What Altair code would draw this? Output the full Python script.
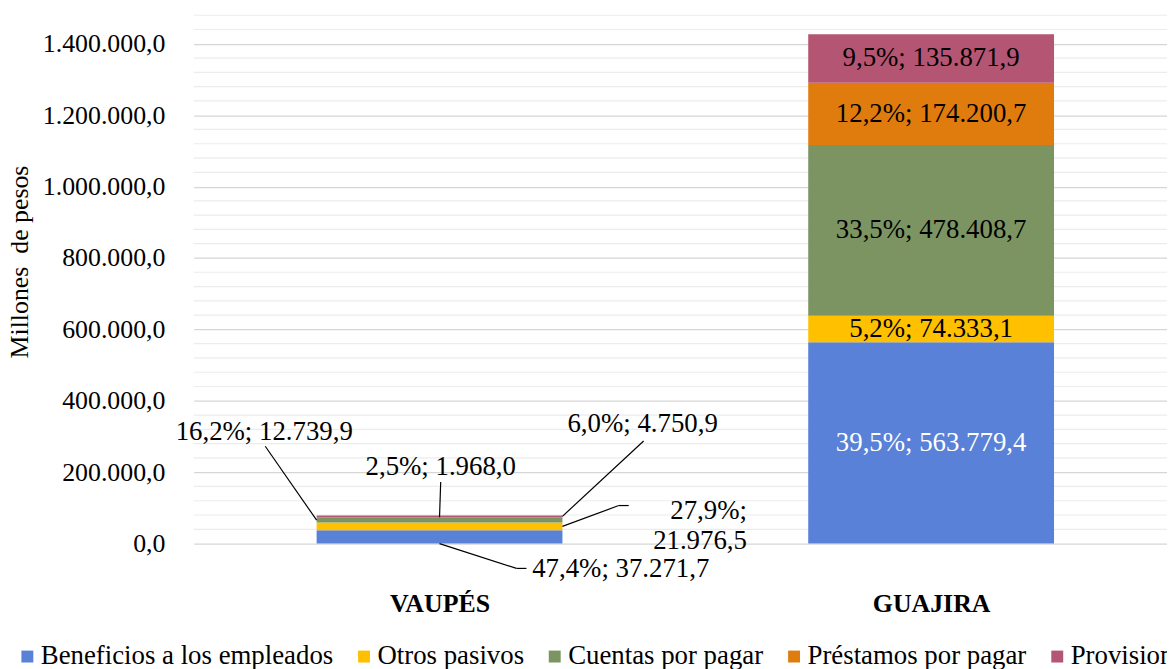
import json
import altair as alt
import pandas as pd

# ---------------- data ----------------
regions = ["VAUPÉS", "GUAJIRA"]
series = ["Beneficios a los empleados", "Otros pasivos", "Cuentas por pagar",
          "Préstamos por pagar", "Provisiones"]
vaupes = [37271.7, 21976.5, 12739.9, 1968.0, 4750.9]
guajira = [563779.4, 74333.1, 478408.7, 174200.7, 135871.9]
colors = ["#5981D7", "#FFC000", "#7C9462", "#E07C0E", "#B45573"]
major_ticks = list(range(0, 1400001, 200000))
minor_ticks = [v for v in range(0, 1480001, 40000) if v % 200000 != 0]
y_title = "Millones\u00a0 de pesos"

# annotation layout for the small VAUPÉS bar (label anchor, leader start, elbow, end)
ann_series = series
ann_tx = [0.8687, 1.1253, 0.1434, 0.5024, 0.9131]
ann_ty = [-71496, 91804, 311578, 214210, 333834]
ann_sx = [0.6768, 0.8848, 0.1455, 0.5024, 0.9152]
ann_sy = [-69549, 106549, 272631, 172481, 287375]
ann_lx = [0.6566, 0.8646, 0.1455, 0.5024, 0.9152]
ann_ly = [-69549, 106549, 272631, 172481, 287375]
ann_eoff = [0.0, 0.25, -0.25, 0.0, 0.25]
ann_frac = [0.0, 0.5, 0.5, 1.0, 0.5]
ann_wrap = [False, True, False, False, False]

FONT = "Liberation Serif"
W, H = 980, 532
STEP = 495.0
BAR_HALF = 0.25
LBL = 27


def es(x, d=1):
    s = f"{x:,.{d}f}"
    return s.replace(",", "#").replace(".", ",").replace("#", ".")


rows = []
for ri, (reg, vals) in enumerate(zip(regions, [vaupes, guajira])):
    total = sum(vals)
    for si, (s, v) in enumerate(zip(series, vals)):
        rows.append(dict(region=reg, xc=ri + 0.5, series=s, order=si, value=v,
                         label=f"{es(v / total * 100)}%; {es(v)}"))
df = pd.DataFrame(rows)

ann = pd.DataFrame(dict(series=ann_series, tx=ann_tx, ty=ann_ty, sx=ann_sx, sy=ann_sy,
                        lx=ann_lx, ly=ann_ly, eoff=ann_eoff, frac=ann_frac, wrap=ann_wrap))
minor_df = pd.DataFrame(dict(v=minor_ticks))

xscale = alt.Scale(domain=[0, W / STEP], nice=False, zero=False)
yscale = alt.Scale(domain=[0, 1480000], nice=False)

label_expr_x = json.dumps(regions, ensure_ascii=False) + "[floor(datum.value)]"
label_expr_y = "replace(format(datum.value, ',.0f'), regexp(',', 'g'), '.') + ',0'"

minor = alt.Chart(minor_df).mark_rule(color="#ececec", strokeWidth=1.2).encode(
    y=alt.Y("v:Q", scale=yscale,
            axis=alt.Axis(title=y_title, values=major_ticks,
                          labelExpr=label_expr_y, grid=True, gridColor="#d6d6d6",
                          gridWidth=1.3, ticks=False, domain=False, labelFontSize=26,
                          labelColor="#000000", labelPadding=29, labelFont=FONT,
                          labelOverlap=False,
                          titleFont=FONT, titleFontSize=26, titleFontWeight="normal",
                          titleColor="#000000", titleAngle=270, titleX=-167, titleY=248,
                          titleAlign="center", titleBaseline="alphabetic")),
)

base = (alt.Chart(df)
        .transform_stack(stack="value", groupby=["region"], as_=["y0", "y1"],
                         sort=[alt.SortField("order", order="ascending")])
        .transform_calculate(x0=f"datum.xc - {BAR_HALF}", x1=f"datum.xc + {BAR_HALF}",
                             mid="(datum.y0 + datum.y1) / 2"))

bars = base.mark_bar().encode(
    x=alt.X("x0:Q", scale=xscale,
            axis=alt.Axis(title=None, values=[0.5, 1.5], labelExpr=label_expr_x, grid=False,
                          ticks=False, domain=False, labelFontSize=26,
                          labelFontWeight="bold", labelColor="#000000", labelPadding=47,
                          labelFlush=False, labelFont=FONT, labelOverlap=False)),
    x2="x1:Q",
    y=alt.Y("y0:Q", scale=yscale),
    y2="y1:Q",
    color=alt.Color("series:N", scale=alt.Scale(domain=series, range=colors),
                    legend=alt.Legend(title=None, orient="none", legendX=-181, legendY=632,
                                      direction="horizontal", symbolType="square",
                                      symbolSize=144, symbolStrokeWidth=0,
                                      labelFontSize=LBL, labelFont=FONT, labelColor="#000000",
                                      labelOffset=0, columnPadding=17, labelLimit=500,
                                      padding=0, columns=5)),
    order=alt.Order("order:Q"),
)

g_text = base.transform_filter(f"datum.region == '{regions[1]}'").mark_text(
    font=FONT, fontSize=LBL, baseline="middle", align="center").encode(
    x="xc:Q",
    y="mid:Q",
    text="label:N",
    color=alt.condition(f"datum.series == '{series[0]}'", alt.value("#ffffff"),
                        alt.value("#000000")),
)

v_base = (base.transform_filter(f"datum.region == '{regions[0]}'")
          .transform_lookup(lookup="series",
                            from_=alt.LookupData(ann, key="series",
                                                 fields=["tx", "ty", "sx", "sy", "lx", "ly",
                                                         "eoff", "frac", "wrap"]))
          .transform_calculate(ex="datum.xc + datum.eoff",
                               ey="datum.y0 + datum.frac * (datum.y1 - datum.y0)",
                               txt="datum.wrap ? replace(datum.label, '; ', ';\\n') : datum.label"))

lead1 = v_base.mark_rule(color="#000000", strokeWidth=1.2).encode(
    x="sx:Q", y="sy:Q", x2="lx:Q", y2="ly:Q")
lead2 = v_base.mark_rule(color="#000000", strokeWidth=1.2).encode(
    x="lx:Q", y="ly:Q", x2="ex:Q", y2="ey:Q")

v_text_c = v_base.transform_filter("!datum.wrap").mark_text(
    font=FONT, fontSize=LBL, baseline="middle", align="center", color="#000000").encode(
    x="tx:Q", y="ty:Q", text="txt:N")
v_text_r = v_base.transform_filter("datum.wrap").mark_text(
    font=FONT, fontSize=LBL, baseline="middle", align="right", color="#000000",
    lineBreak="\n", lineHeight=30).encode(
    x="tx:Q", y="ty:Q", text="txt:N")

chart = (alt.layer(minor, bars, g_text, lead1, lead2, v_text_c, v_text_r)
         .properties(width=W, height=H,
                     padding={"left": 187, "top": 5, "right": 0, "bottom": 124},
                     autosize=alt.AutoSizeParams(type="none"))
         .configure(font=FONT)
         .configure_view(strokeWidth=0))

chart.save("out.html", embed_options={"renderer": "svg", "actions": False})
